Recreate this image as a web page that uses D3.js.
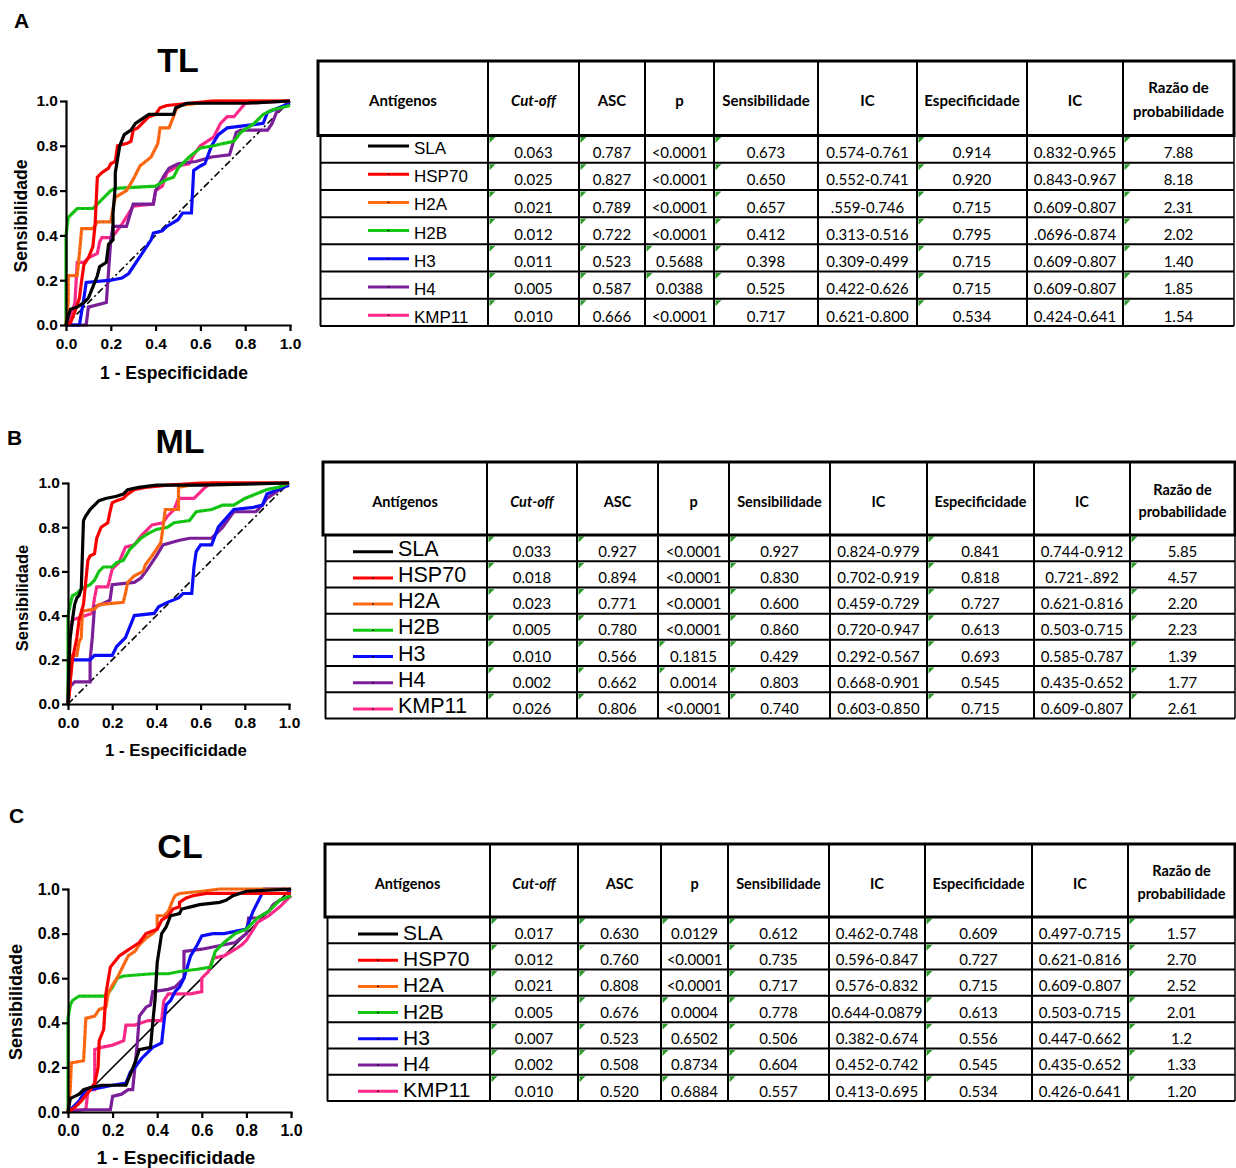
<!DOCTYPE html>
<html>
<head>
<meta charset="utf-8">
<script src="https://cdn.jsdelivr.net/npm/d3@7"></script>
<style>
  body { margin: 0; background: #fff; }
  svg { display: block; }
</style>
</head>
<body>
<script>
// antigens and their line colours
const antigens = ["SLA", "HSP70", "H2A", "H2B", "H3", "H4", "KMP11"];
const lineColors = ["#000000", "#ff0000", "#ff6a13", "#14c814", "#0a0aff", "#7d1f9c", "#ff2a8c"];

const headerLabels = [["Antígenos"], ["Cut-off"], ["ASC"], ["p"], ["Sensibilidade"], ["IC"],
  ["Especificidade"], ["IC"], ["Razão de", "probabilidade"]];
const axisTicks = [0, 0.2, 0.4, 0.6, 0.8, 1.0];

// ROC curves, [1 - especificidade, sensibilidade]
// TL
const tlSla = [[0,0],[0.01,0.04],[0.02,0.07],[0.05,0.08],[0.08,0.1],[0.1,0.12],[0.12,0.17],[0.14,0.22],[0.15,0.26],[0.18,0.28],[0.19,0.36],[0.21,0.38],[0.21,0.5],[0.22,0.62],[0.22,0.68],[0.24,0.8],[0.26,0.85],[0.29,0.87],[0.31,0.9],[0.34,0.92],[0.37,0.94],[0.48,0.94],[0.49,0.97],[0.54,0.99],[0.8,0.99],[1,1]];
const tlHsp70 = [[0,0],[0.02,0.01],[0.04,0.06],[0.06,0.12],[0.07,0.2],[0.08,0.27],[0.1,0.3],[0.12,0.35],[0.13,0.45],[0.14,0.66],[0.16,0.68],[0.19,0.7],[0.2,0.72],[0.22,0.73],[0.23,0.8],[0.27,0.81],[0.29,0.82],[0.3,0.87],[0.32,0.88],[0.35,0.91],[0.37,0.93],[0.4,0.94],[0.42,0.97],[0.45,0.98],[0.55,0.99],[0.65,1],[1,1]];
const tlH2a = [[0,0],[0.01,0.1],[0.01,0.22],[0.05,0.22],[0.06,0.32],[0.07,0.43],[0.12,0.43],[0.14,0.46],[0.2,0.46],[0.21,0.52],[0.22,0.57],[0.27,0.6],[0.3,0.65],[0.33,0.71],[0.38,0.75],[0.41,0.81],[0.42,0.88],[0.46,0.88],[0.48,0.93],[0.49,0.96],[0.51,0.98],[0.67,1],[1,1]];
const tlH2b = [[0,0],[0,0.4],[0.01,0.48],[0.03,0.5],[0.05,0.52],[0.12,0.52],[0.15,0.55],[0.2,0.6],[0.22,0.61],[0.4,0.62],[0.45,0.65],[0.48,0.66],[0.5,0.7],[0.55,0.75],[0.6,0.79],[0.66,0.8],[0.7,0.81],[0.75,0.82],[0.78,0.86],[0.84,0.9],[0.88,0.94],[0.92,0.96],[1,0.98]];
const tlH3 = [[0,0],[0.06,0],[0.08,0.12],[0.09,0.19],[0.2,0.2],[0.25,0.21],[0.28,0.23],[0.3,0.26],[0.34,0.32],[0.38,0.38],[0.39,0.41],[0.43,0.42],[0.45,0.44],[0.5,0.47],[0.52,0.5],[0.56,0.5],[0.57,0.69],[0.6,0.71],[0.62,0.72],[0.65,0.8],[0.68,0.85],[0.72,0.88],[0.8,0.89],[0.88,0.9],[0.9,0.95],[0.95,0.97],[1,0.99]];
const tlH4 = [[0,0],[0.09,0],[0.1,0.08],[0.18,0.1],[0.2,0.38],[0.21,0.44],[0.27,0.44],[0.3,0.54],[0.39,0.54],[0.4,0.6],[0.44,0.67],[0.46,0.7],[0.5,0.72],[0.58,0.73],[0.65,0.75],[0.73,0.76],[0.76,0.86],[0.78,0.87],[0.9,0.87],[0.92,0.9],[0.94,0.95],[1,1]];
const tlKmp11 = [[0,0],[0.01,0],[0.04,0.1],[0.05,0.28],[0.08,0.28],[0.1,0.3],[0.14,0.32],[0.15,0.37],[0.16,0.39],[0.2,0.39],[0.22,0.41],[0.25,0.45],[0.3,0.53],[0.39,0.54],[0.4,0.6],[0.43,0.62],[0.45,0.68],[0.5,0.71],[0.55,0.72],[0.57,0.76],[0.6,0.8],[0.63,0.82],[0.66,0.84],[0.69,0.9],[0.72,0.93],[0.75,0.93],[0.8,0.99],[1,1]];
// ML
const mlSla = [[0,0],[0.005,0.2],[0.01,0.3],[0.02,0.38],[0.03,0.45],[0.04,0.48],[0.05,0.49],[0.06,0.52],[0.07,0.83],[0.08,0.85],[0.1,0.88],[0.12,0.9],[0.14,0.92],[0.17,0.93],[0.22,0.94],[0.25,0.95],[0.27,0.97],[0.32,0.98],[0.4,0.99],[0.6,0.99],[1,1]];
const mlHsp70 = [[0,0],[0.01,0.1],[0.02,0.2],[0.04,0.3],[0.05,0.38],[0.07,0.45],[0.08,0.55],[0.09,0.65],[0.1,0.67],[0.12,0.68],[0.13,0.75],[0.15,0.8],[0.18,0.82],[0.19,0.87],[0.2,0.91],[0.22,0.92],[0.25,0.93],[0.27,0.95],[0.3,0.97],[0.35,0.98],[0.45,0.99],[0.6,1],[1,1]];
const mlH2a = [[0,0],[0.01,0.1],[0.015,0.22],[0.04,0.22],[0.05,0.28],[0.06,0.3],[0.065,0.42],[0.12,0.43],[0.14,0.45],[0.25,0.46],[0.26,0.5],[0.27,0.55],[0.3,0.58],[0.34,0.6],[0.35,0.63],[0.38,0.67],[0.4,0.7],[0.42,0.73],[0.43,0.8],[0.44,0.88],[0.5,0.88],[0.5,0.98],[0.55,0.99],[0.65,1],[1,1]];
const mlH2b = [[0,0],[0,0.4],[0.01,0.45],[0.02,0.49],[0.04,0.5],[0.06,0.52],[0.1,0.54],[0.12,0.56],[0.14,0.6],[0.16,0.62],[0.2,0.62],[0.22,0.64],[0.25,0.65],[0.28,0.7],[0.3,0.72],[0.33,0.75],[0.36,0.77],[0.4,0.79],[0.45,0.8],[0.48,0.82],[0.55,0.83],[0.58,0.87],[0.65,0.88],[0.7,0.9],[0.75,0.9],[0.8,0.93],[0.85,0.95],[0.9,0.97],[0.95,0.98],[1,1]];
const mlH3 = [[0,0],[0.01,0.2],[0.1,0.2],[0.12,0.22],[0.2,0.22],[0.22,0.26],[0.26,0.3],[0.28,0.35],[0.3,0.4],[0.39,0.41],[0.41,0.44],[0.45,0.46],[0.5,0.48],[0.52,0.5],[0.56,0.5],[0.57,0.62],[0.58,0.69],[0.6,0.72],[0.65,0.72],[0.68,0.8],[0.75,0.88],[0.84,0.89],[0.88,0.9],[0.9,0.95],[0.95,0.97],[1,0.99]];
const mlH4 = [[0,0],[0.01,0.08],[0.03,0.1],[0.1,0.1],[0.1,0.2],[0.11,0.3],[0.12,0.44],[0.15,0.45],[0.19,0.47],[0.2,0.54],[0.3,0.55],[0.33,0.57],[0.36,0.61],[0.4,0.67],[0.43,0.72],[0.5,0.74],[0.55,0.75],[0.65,0.75],[0.7,0.8],[0.75,0.87],[0.85,0.87],[0.88,0.9],[0.9,0.93],[0.93,0.95],[1,1]];
const mlKmp11 = [[0,0],[0.005,0.28],[0.01,0.33],[0.02,0.38],[0.05,0.39],[0.08,0.4],[0.11,0.41],[0.12,0.48],[0.13,0.53],[0.18,0.53],[0.2,0.61],[0.23,0.64],[0.26,0.71],[0.3,0.72],[0.33,0.76],[0.36,0.79],[0.38,0.81],[0.43,0.82],[0.45,0.85],[0.48,0.88],[0.5,0.93],[0.57,0.93],[0.6,0.96],[0.62,0.98],[0.65,1],[1,1]];
// CL
const clSla = [[0,0],[0.01,0.06],[0.03,0.07],[0.05,0.08],[0.07,0.1],[0.1,0.11],[0.15,0.12],[0.26,0.12],[0.28,0.17],[0.3,0.22],[0.32,0.28],[0.37,0.29],[0.38,0.4],[0.39,0.5],[0.4,0.67],[0.42,0.8],[0.44,0.83],[0.46,0.88],[0.5,0.89],[0.51,0.91],[0.55,0.92],[0.59,0.93],[0.68,0.94],[0.71,0.95],[0.74,0.97],[0.8,0.99],[1,1]];
const clHsp70 = [[0,0],[0.03,0.02],[0.06,0.05],[0.1,0.1],[0.12,0.13],[0.135,0.2],[0.14,0.32],[0.16,0.37],[0.17,0.53],[0.19,0.65],[0.23,0.7],[0.26,0.72],[0.29,0.74],[0.32,0.76],[0.35,0.8],[0.4,0.82],[0.42,0.86],[0.45,0.88],[0.47,0.91],[0.5,0.92],[0.5,0.94],[0.53,0.96],[0.56,0.97],[0.62,0.98],[1,0.98]];
const clH2a = [[0,0],[0.01,0.1],[0.015,0.22],[0.07,0.23],[0.08,0.42],[0.12,0.43],[0.14,0.46],[0.17,0.47],[0.18,0.53],[0.2,0.57],[0.22,0.6],[0.24,0.64],[0.27,0.7],[0.3,0.72],[0.32,0.75],[0.35,0.78],[0.38,0.8],[0.4,0.82],[0.4,0.88],[0.43,0.88],[0.45,0.9],[0.47,0.95],[0.48,0.97],[0.5,0.98],[0.6,0.99],[0.68,1],[1,1]];
const clH2b = [[0,0],[0,0.42],[0.01,0.48],[0.02,0.5],[0.05,0.52],[0.17,0.52],[0.2,0.56],[0.22,0.6],[0.25,0.61],[0.38,0.62],[0.45,0.62],[0.5,0.63],[0.58,0.64],[0.64,0.65],[0.66,0.72],[0.7,0.76],[0.75,0.8],[0.8,0.82],[0.85,0.87],[0.9,0.9],[0.95,0.95],[1,0.97]];
const clH3 = [[0,0],[0.02,0.02],[0.05,0.05],[0.08,0.1],[0.1,0.1],[0.15,0.11],[0.2,0.12],[0.26,0.13],[0.28,0.18],[0.3,0.2],[0.33,0.24],[0.36,0.27],[0.38,0.29],[0.4,0.3],[0.42,0.31],[0.43,0.4],[0.44,0.48],[0.46,0.5],[0.48,0.54],[0.5,0.56],[0.52,0.6],[0.55,0.7],[0.58,0.75],[0.6,0.79],[0.65,0.8],[0.7,0.8],[0.8,0.82],[0.83,0.9],[0.88,1],[0.97,1],[1,0.99]];
const clH4 = [[0,0],[0.07,0.01],[0.19,0.01],[0.2,0.07],[0.24,0.08],[0.27,0.1],[0.29,0.1],[0.3,0.2],[0.31,0.3],[0.32,0.43],[0.35,0.47],[0.37,0.48],[0.38,0.54],[0.45,0.55],[0.48,0.56],[0.52,0.6],[0.52,0.72],[0.6,0.73],[0.65,0.74],[0.7,0.75],[0.75,0.76],[0.8,0.8],[0.81,0.87],[0.85,0.87],[0.9,0.9],[0.92,0.93],[0.95,0.95],[1,0.97]];
const clKmp11 = [[0,0],[0.02,0.01],[0.08,0.01],[0.09,0.1],[0.12,0.1],[0.12,0.28],[0.15,0.29],[0.2,0.3],[0.25,0.32],[0.26,0.39],[0.3,0.39],[0.33,0.4],[0.36,0.41],[0.42,0.41],[0.43,0.5],[0.45,0.53],[0.55,0.53],[0.6,0.54],[0.6,0.6],[0.63,0.63],[0.65,0.69],[0.7,0.7],[0.75,0.73],[0.78,0.75],[0.8,0.77],[0.85,0.85],[0.9,0.88],[0.95,0.92],[1,0.97]];

const tlCurves = [tlSla, tlHsp70, tlH2a, tlH2b, tlH3, tlH4, tlKmp11];
const mlCurves = [mlSla, mlHsp70, mlH2a, mlH2b, mlH3, mlH4, mlKmp11];
const clCurves = [clSla, clHsp70, clH2a, clH2b, clH3, clH4, clKmp11];

// table rows: cut-off, ASC, p, sens, IC, espec, IC, razao
const tlTable = [
  ["0.063","0.787","<0.0001","0.673","0.574-0.761","0.914","0.832-0.965","7.88"],
  ["0.025","0.827","<0.0001","0.650","0.552-0.741","0.920","0.843-0.967","8.18"],
  ["0.021","0.789","<0.0001","0.657",".559-0.746","0.715","0.609-0.807","2.31"],
  ["0.012","0.722","<0.0001","0.412","0.313-0.516","0.795",".0696-0.874","2.02"],
  ["0.011","0.523","0.5688","0.398","0.309-0.499","0.715","0.609-0.807","1.40"],
  ["0.005","0.587","0.0388","0.525","0.422-0.626","0.715","0.609-0.807","1.85"],
  ["0.010","0.666","<0.0001","0.717","0.621-0.800","0.534","0.424-0.641","1.54"]];
const mlTable = [
  ["0.033","0.927","<0.0001","0.927","0.824-0.979","0.841","0.744-0.912","5.85"],
  ["0.018","0.894","<0.0001","0.830","0.702-0.919","0.818","0.721-.892","4.57"],
  ["0.023","0.771","<0.0001","0.600","0.459-0.729","0.727","0.621-0.816","2.20"],
  ["0.005","0.780","<0.0001","0.860","0.720-0.947","0.613","0.503-0.715","2.23"],
  ["0.010","0.566","0.1815","0.429","0.292-0.567","0.693","0.585-0.787","1.39"],
  ["0.002","0.662","0.0014","0.803","0.668-0.901","0.545","0.435-0.652","1.77"],
  ["0.026","0.806","<0.0001","0.740","0.603-0.850","0.715","0.609-0.807","2.61"]];
const clTable = [
  ["0.017","0.630","0.0129","0.612","0.462-0.748","0.609","0.497-0.715","1.57"],
  ["0.012","0.760","<0.0001","0.735","0.596-0.847","0.727","0.621-0.816","2.70"],
  ["0.021","0.808","<0.0001","0.717","0.576-0.832","0.715","0.609-0.807","2.52"],
  ["0.005","0.676","0.0004","0.778","0.644-0.0879","0.613","0.503-0.715","2.01"],
  ["0.007","0.523","0.6502","0.506","0.382-0.674","0.556","0.447-0.662","1.2"],
  ["0.002","0.508","0.8734","0.604","0.452-0.742","0.545","0.435-0.652","1.33"],
  ["0.010","0.520","0.6884","0.557","0.413-0.695","0.534","0.426-0.641","1.20"]];

const arial = "'Liberation Sans', Arial, sans-serif";
const calibri = "Lato, 'Open Sans', sans-serif";

const panels = [
  {letter: "A", letterPos: [14, 28], title: "TL", titlePos: [178, 72],
   plot: {left: 66, right: 290, bottom: 325, top: 101}, tickFs: 15.5,
   yLab: [27, 216, 17.5], xLab: [174, 379, 17.5], diagDash: "7,3,2,3", curves: tlCurves,
   table: {rows: tlTable, cols: [318, 488, 579, 645, 714, 818, 917, 1027, 1123, 1234],
     top: 61, headBottom: 135.5, bottom: 326, headFs: 15, headY: [101, 88, 112],
     leg: {x0: 368, x1: 409, tx: 414, fs: 17, y0: 154, step: 28.2, dy: -8}}},
  {letter: "B", letterPos: [7, 445], title: "ML", titlePos: [180, 453],
   plot: {left: 68, right: 289, bottom: 704, top: 483}, tickFs: 15.5,
   yLab: [28, 598, 16.5], xLab: [176, 756, 16.8], diagDash: "7,3,2,3", curves: mlCurves,
   table: {rows: mlTable, cols: [323, 487, 577, 658, 729, 830, 927, 1034, 1130, 1235],
     top: 462, headBottom: 535, bottom: 718.5, headFs: 14.5, headY: [502, 490, 512],
     leg: {x0: 353, x1: 393, tx: 398, fs: 21.5, y0: 555.7, step: 26.2, dy: -4}}},
  {letter: "C", letterPos: [9, 823], title: "CL", titlePos: [180, 858],
   plot: {left: 68, right: 291, bottom: 1112, top: 889}, tickFs: 16,
   yLab: [22, 1002, 18], xLab: [176, 1164, 18.8], diagDash: null, curves: clCurves,
   table: {rows: clTable, cols: [325, 490, 578, 661, 728, 829, 925, 1032, 1128, 1235],
     top: 844, headBottom: 917, bottom: 1101, headFs: 14.5, headY: [884, 871, 894],
     leg: {x0: 358, x1: 398, tx: 403, fs: 21, y0: 940, step: 26.2, dy: -6}}}
];

const svg = d3.select("body").append("svg")
  .attr("width", 1236)
  .attr("height", 1168);

function drawRoc(p) {
  const g = svg.append("g");
  const x = d3.scaleLinear().domain([0, 1]).range([p.plot.left, p.plot.right]);
  const y = d3.scaleLinear().domain([0, 1]).range([p.plot.bottom, p.plot.top]);
  const line = d3.line().x(d => x(d[0])).y(d => y(d[1]));

  g.append("text").text(p.letter)
    .attr("x", p.letterPos[0]).attr("y", p.letterPos[1])
    .style("font-family", arial).style("font-weight", "bold").style("font-size", "21px");
  g.append("text").text(p.title)
    .attr("x", p.titlePos[0]).attr("y", p.titlePos[1])
    .attr("text-anchor", "middle")
    .style("font-family", arial).style("font-weight", "bold").style("font-size", "34px");

  // reference diagonal
  g.append("path").datum([[0, 0], [1, 1]])
    .attr("d", line)
    .attr("fill", "none")
    .attr("stroke", "#000")
    .attr("stroke-width", 1.6)
    .attr("stroke-dasharray", p.diagDash);

  // curves, SLA ends on top
  const order = d3.range(antigens.length).reverse();
  order.forEach(i => {
    g.append("path").datum(p.curves[i])
      .attr("d", line)
      .attr("fill", "none")
      .attr("stroke", lineColors[i])
      .attr("stroke-width", 3.2)
      .attr("stroke-linejoin", "miter");
    // prism point markers
    g.append("path").datum(p.curves[i])
      .attr("d", line)
      .attr("fill", "none")
      .attr("stroke", "#222")
      .attr("stroke-width", 1)
      .attr("stroke-dasharray", "1,4")
      .attr("opacity", 0.4);
  });

  const xAxis = d3.axisBottom(x).tickValues(axisTicks).tickFormat(d3.format(".1f"))
    .tickSize(6).tickSizeOuter(0).tickPadding(7);
  const yAxis = d3.axisLeft(y).tickValues(axisTicks).tickFormat(d3.format(".1f"))
    .tickSize(6).tickSizeOuter(0).tickPadding(2);

  [[xAxis, `translate(0,${p.plot.bottom})`], [yAxis, `translate(${p.plot.left},0)`]].forEach(a => {
    g.append("g")
      .attr("transform", a[1])
      .call(a[0])
      .attr("font-family", arial)
      .attr("font-size", p.tickFs)
      .attr("font-weight", "bold")
      .call(s => s.select(".domain").attr("stroke-width", 2.2).attr("stroke-linecap", "square"))
      .call(s => s.selectAll(".tick line").attr("stroke-width", 2.2))
      .call(s => s.selectAll(".tick text").attr("fill", "#000"));
  });

  g.append("text").text("Sensibilidade")
    .attr("transform", `translate(${p.yLab[0]},${p.yLab[1]}) rotate(-90)`)
    .attr("text-anchor", "middle")
    .style("font-family", arial).style("font-weight", "bold").style("font-size", p.yLab[2] + "px");
  g.append("text").text("1 - Especificidade")
    .attr("x", p.xLab[0]).attr("y", p.xLab[1])
    .attr("text-anchor", "middle")
    .style("font-family", arial).style("font-weight", "bold").style("font-size", p.xLab[2] + "px");
}

function drawTable(t) {
  const g = svg.append("g");
  const c = t.cols;
  const rowY = d3.scaleBand().domain(antigens).range([t.headBottom, t.bottom]);
  const mid = i => (c[i] + c[i + 1]) / 2;

  // header texts
  headerLabels.forEach((lines, i) => {
    lines.forEach((s, k) => {
      g.append("text").text(s)
        .attr("x", mid(i))
        .attr("y", lines.length == 1 ? t.headY[0] : t.headY[1 + k])
        .attr("dy", "0.35em")
        .attr("text-anchor", "middle")
        .style("font-family", calibri)
        .style("font-weight", "bold")
        .style("font-style", s == "Cut-off" ? "italic" : "normal")
        .style("font-size", t.headFs + "px");
    });
  });

  // body rows
  t.rows.forEach((row, r) => {
    const yb = rowY(antigens[r]) + rowY.bandwidth();
    row.forEach((v, k) => {
      const i = k + 1;
      if (!/[<-]/.test(v)) {
        g.append("path")
          .attr("d", `M${c[i] + 1.5},${rowY(antigens[r]) + 1.5}h6l-6,6z`)
          .attr("fill", "#2e9a2e");
      }
      g.append("text").text(v)
        .attr("x", mid(i))
        .attr("y", yb - 4.5)
        .attr("text-anchor", "middle")
        .style("font-family", calibri)
        .style("font-size", "15px");
    });
  });

  // legend in the first column
  antigens.forEach((a, i) => {
    const yy = t.leg.y0 + i * t.leg.step;
    g.append("line")
      .attr("x1", t.leg.x0).attr("x2", t.leg.x1)
      .attr("y1", yy + t.leg.dy).attr("y2", yy + t.leg.dy)
      .attr("stroke", lineColors[i]).attr("stroke-width", 3);
    g.append("rect")
      .attr("x", (t.leg.x0 + t.leg.x1) / 2 - 1).attr("y", yy + t.leg.dy - 0.5)
      .attr("width", 2).attr("height", 1).attr("fill", "#000");
    g.append("text").text(a)
      .attr("x", t.leg.tx).attr("y", yy)
      .style("font-family", arial)
      .style("font-size", t.leg.fs + "px");
  });

  // grid
  const grid = g.append("g").attr("stroke", "#000").attr("fill", "none");
  antigens.forEach(a => {
    const yb = rowY(a) + rowY.bandwidth();
    grid.append("line").attr("x1", c[0] + 2).attr("x2", c[9]).attr("y1", yb).attr("y2", yb).attr("stroke-width", 2);
  });
  c.slice(1, 9).forEach(xv => {
    grid.append("line").attr("x1", xv).attr("x2", xv).attr("y1", t.top).attr("y2", t.bottom).attr("stroke-width", 2);
  });
  grid.append("line").attr("x1", c[0] + 2.5).attr("x2", c[0] + 2.5).attr("y1", t.headBottom).attr("y2", t.bottom).attr("stroke-width", 2);
  grid.append("line").attr("x1", c[9]).attr("x2", c[9]).attr("y1", t.headBottom).attr("y2", t.bottom).attr("stroke-width", 1.5);
  grid.append("rect")
    .attr("x", c[0]).attr("y", t.top)
    .attr("width", c[9] - c[0]).attr("height", t.headBottom - t.top)
    .attr("stroke-width", 3);
}

panels.forEach(p => {
  drawRoc(p);
  drawTable(p.table);
});
</script>
</body>
</html>
